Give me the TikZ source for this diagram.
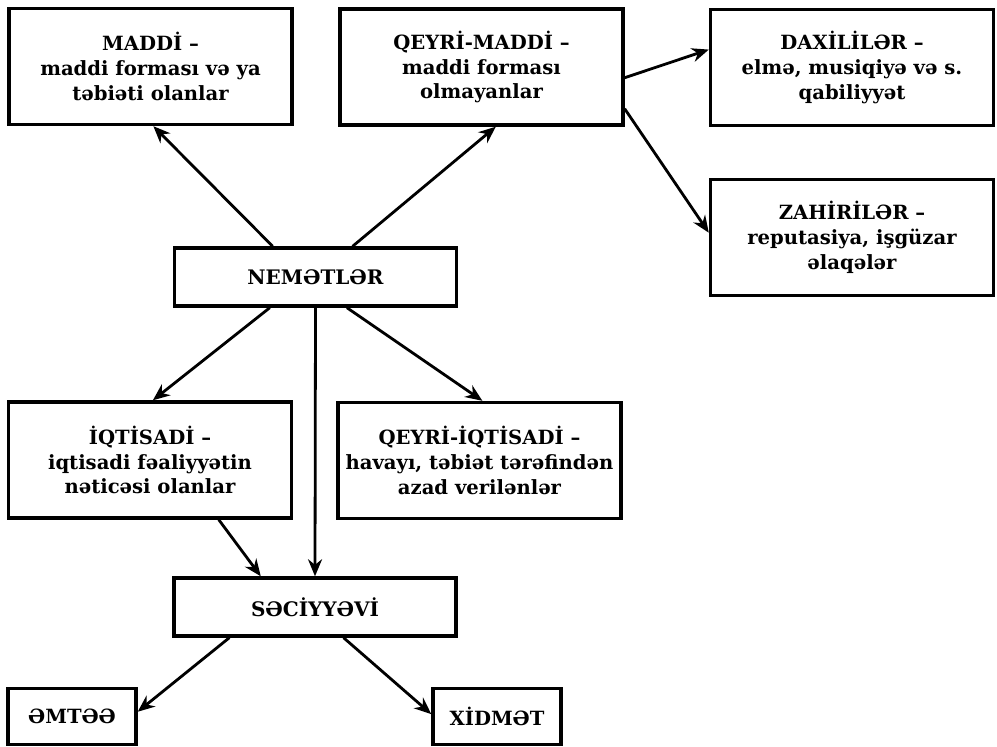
\documentclass[tikz,border=0pt]{standalone}
\usepackage{fontspec}
\setmainfont{DejaVu Serif}
\usetikzlibrary{arrows.meta,calc}
\tikzset{
  box/.style={draw, line width=1.7pt, align=center, inner sep=0pt,
    font=\bfseries\fontsize{9.8}{12.4}\selectfont, text=black},
  bigbox/.style={box, minimum width=141.5pt, minimum height=58pt},
  smallbox/.style={box, minimum width=64pt, minimum height=28pt},
  midbox/.style={box, minimum width=141pt, minimum height=29pt,
    font=\bfseries\fontsize{10}{12}\selectfont},
  arr/.style={line width=1.4pt, -{Stealth[length=8.5pt,width=7pt]}},
}
\begin{document}
\begin{tikzpicture}[x=0.5pt,y=-0.5pt]
\useasboundingbox (0,0) rectangle (997,747);

\node[bigbox] (maddi) at (150.5,66.5) {MADDİ –\\ maddi forması və ya\\ təbiəti olanlar};
\node[bigbox] (qmaddi) at (481.5,67) {QEYRİ-MADDİ –\\ maddi forması\\ olmayanlar};
\node[bigbox] (daxili) at (852,67.5) {DAXİLİLƏR –\\ elmə, musiqiyə və s.\\ qabiliyyət};
\node[bigbox] (zahiri) at (852,237.5) {ZAHİRİLƏR –\\ reputasiya, işgüzar\\ əlaqələr};
\node[midbox] (nem) at (315.5,277) {NEMƏTLƏR};
\node[bigbox] (iqt) at (150,460) {İQTİSADİ –\\ iqtisadi fəaliyyətin\\ nəticəsi olanlar};
\node[bigbox] (qiqt) at (479.5,460.5) {QEYRİ-İQTİSADİ –\\ havayı, təbiət tərəfindən\\ azad verilənlər};
\node[midbox] (sec) at (315,607) {SƏCİYYƏVİ};
\node[smallbox] (emtee) at (72,716.5) {ƏMTƏƏ};
\node[smallbox] (xidmet) at (497,716.5) {XİDMƏT};

\draw[arr] ($(nem.north west)!0.35!(nem.north east)$) -- ($(maddi.south west)!0.51!(maddi.south east)$);
\draw[arr] ($(nem.north west)!0.63!(nem.north east)$) -- ($(qmaddi.south west)!0.55!(qmaddi.south east)$);
\draw[arr] ($(qmaddi.north east)!0.59!(qmaddi.south east)$) -- ($(daxili.north west)!0.35!(daxili.south west)$);
\draw[arr] ($(qmaddi.north east)!0.85!(qmaddi.south east)$) -- ($(zahiri.north west)!0.46!(zahiri.south west)$);
\draw[arr] ($(nem.south west)!0.34!(nem.south east)$) -- ($(iqt.north west)!0.51!(iqt.north east)$);
\draw[arr] (nem.south) -- (sec.north);
\draw[arr] ($(nem.south west)!0.61!(nem.south east)$) -- ($(qiqt.north west)!0.51!(qiqt.north east)$);
\draw[arr] ($(iqt.south west)!0.74!(iqt.south east)$) -- ($(sec.north west)!0.31!(sec.north east)$);
\draw[arr] ($(sec.south west)!0.2!(sec.south east)$) -- ($(emtee.north east)!0.42!(emtee.south east)$);
\draw[arr] ($(sec.south west)!0.6!(sec.south east)$) -- ($(xidmet.north west)!0.46!(xidmet.south west)$);
\end{tikzpicture}
\end{document}
